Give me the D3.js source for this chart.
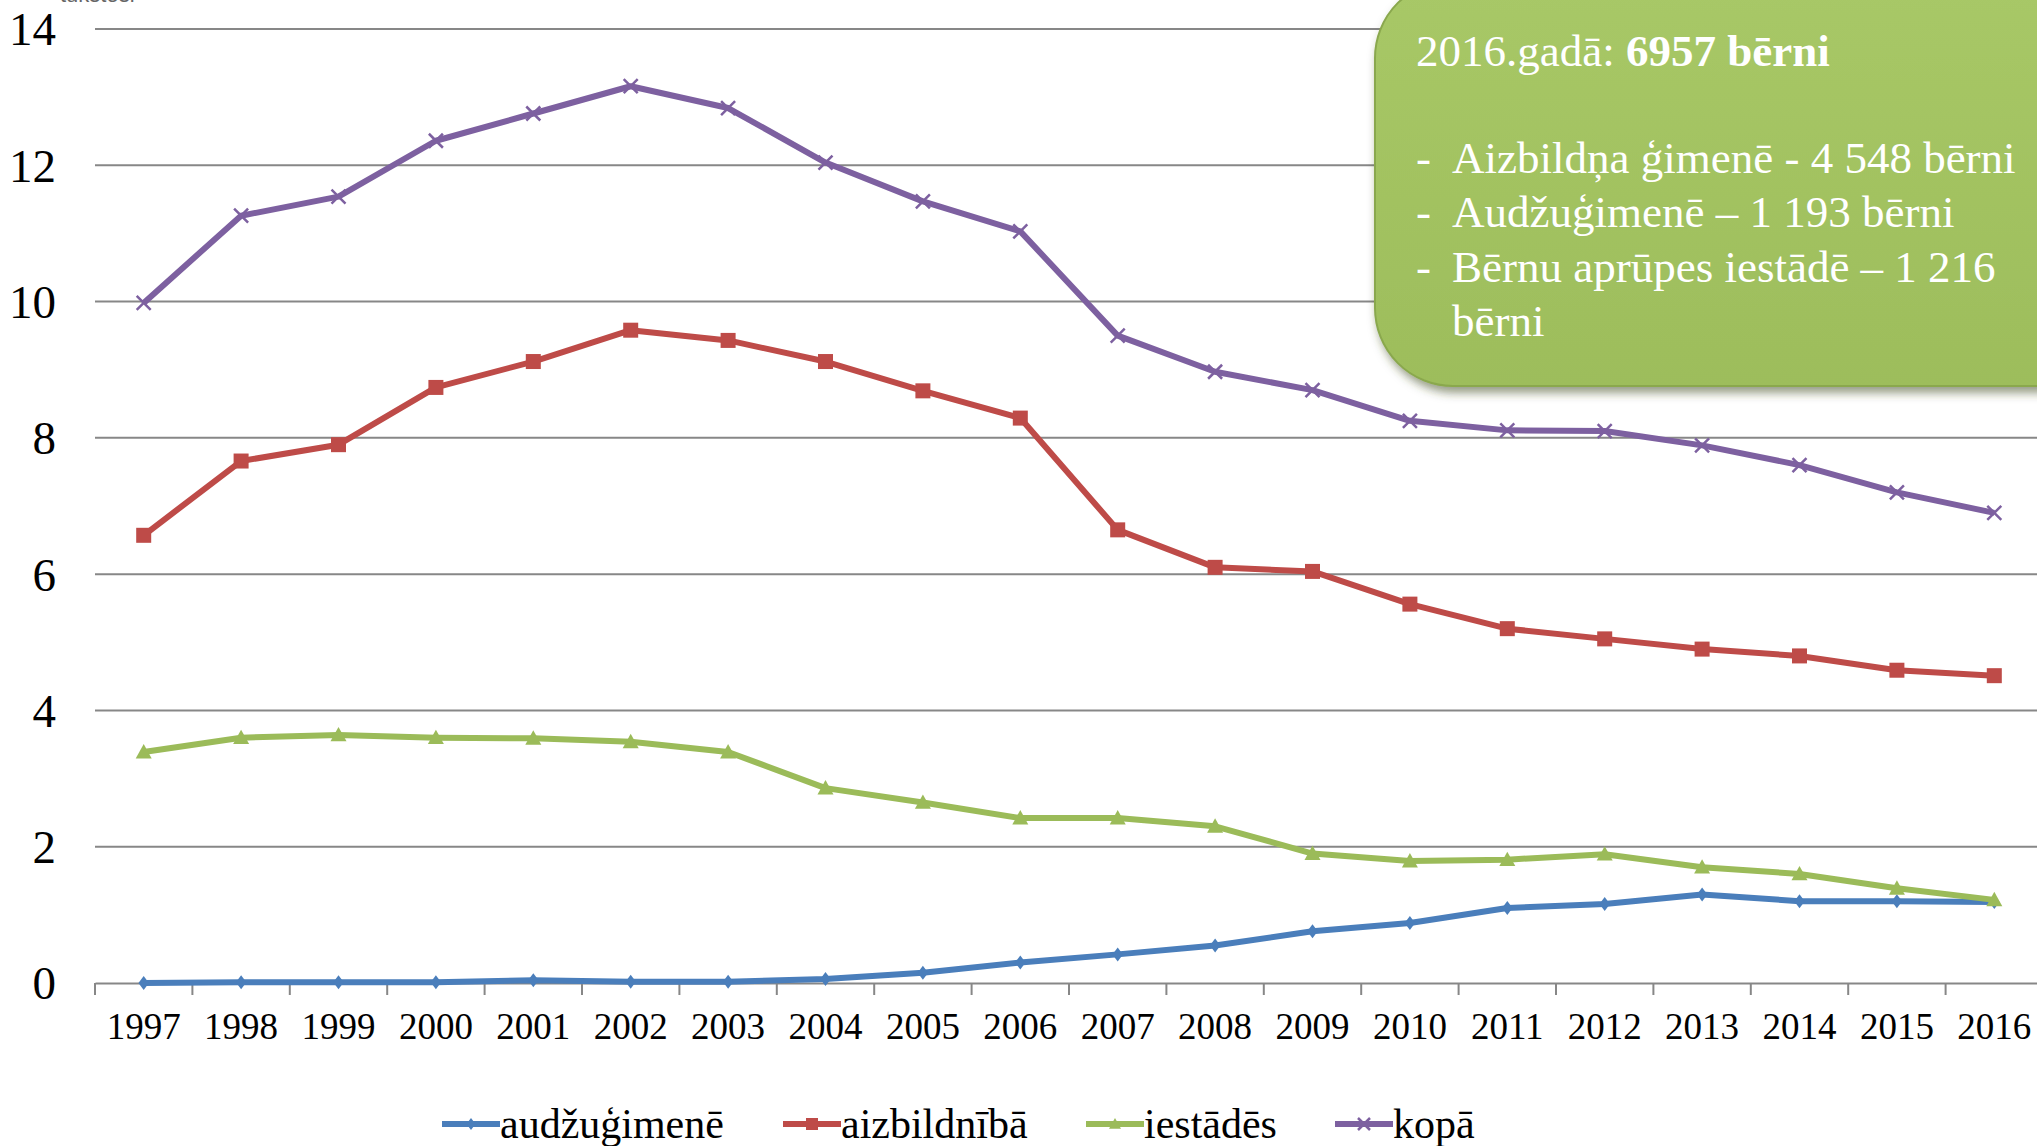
<!DOCTYPE html>
<html>
<head>
<meta charset="utf-8">
<script src="https://cdn.jsdelivr.net/npm/d3@7"></script>
<style>
  html, body { margin: 0; padding: 0; background: #fff; overflow: hidden; }
  svg { display: block; font-family: "Liberation Serif", "Times New Roman", serif; }
</style>
</head>
<body>
<svg id="chart" width="2037" height="1146"></svg>
<script>
const years = ["1997","1998","1999","2000","2001","2002","2003","2004","2005","2006","2007","2008","2009","2010","2011","2012","2013","2014","2015","2016"];
const audzugimene = [0.00,0.01,0.01,0.01,0.04,0.02,0.02,0.06,0.15,0.30,0.42,0.55,0.76,0.88,1.10,1.16,1.30,1.20,1.20,1.19];
const aizbildniba = [6.57,7.66,7.90,8.74,9.12,9.58,9.43,9.12,8.69,8.29,6.65,6.10,6.04,5.56,5.20,5.05,4.90,4.80,4.59,4.51];
const iestades    = [3.39,3.60,3.64,3.60,3.59,3.54,3.39,2.86,2.65,2.42,2.42,2.30,1.90,1.79,1.81,1.89,1.70,1.60,1.39,1.22];
const kopa        = [9.98,11.26,11.54,12.36,12.76,13.16,12.84,12.04,11.47,11.03,9.50,8.97,8.70,8.25,8.11,8.10,7.89,7.60,7.20,6.90];
const yTicks = [0,2,4,6,8,10,12,14];
const seriesNames = ["audžuģimenē","aizbildnībā","iestādēs","kopā"];
const seriesColors = ["#4A7EBB","#BE4B48","#9BBB59","#7D60A0"];
const seriesMarkers = ["diamond","square","triangle","x"];
const boxTitle = "2016.gadā: ";
const boxTitleBold = "6957 bērni";
const boxLines = ["Aizbildņa ģimenē - 4 548 bērni","Audžuģimenē – 1 193 bērni","Bērnu aprūpes iestādē – 1 216","bērni"];
const boxDashes = [true,true,true,false];
const unitLabel = "tūkstoši";

const svg = d3.select("#chart");
const W = 2037, H = 1146;
const left = 95, bandW = 97.4;
const x = d3.scaleBand().domain(years).range([left, left + bandW * years.length]).padding(0);
const y = d3.scaleLinear().domain([0, 14]).range([983, 29]);

// unit label (mostly cut off at top, as in the reference)
svg.append("text").attr("x", 60).attr("y", 2).attr("font-size", 22).attr("fill", "#666")
  .attr("font-family", "Liberation Sans, Arial, sans-serif").text(unitLabel);

// gridlines
svg.append("g").selectAll("line").data(yTicks.filter(d => d > 0)).join("line")
  .attr("x1", left).attr("x2", W).attr("y1", d => y(d)).attr("y2", d => y(d))
  .attr("stroke", "#878787").attr("stroke-width", 2);

// y labels
svg.append("g").selectAll("text").data(yTicks).join("text")
  .attr("x", 56).attr("y", d => y(d)).attr("dy", "0.35em").attr("text-anchor", "end")
  .attr("font-size", 47).attr("fill", "#000").text(d => d);

// x axis
const xAxis = d3.axisBottom(x).tickSize(0).tickFormat(d => d);
const gx = svg.append("g").attr("transform", `translate(0,${y(0)})`).call(xAxis);
gx.select(".domain").attr("stroke", "#878787").attr("stroke-width", 2);
gx.selectAll("text").attr("font-size", 37).attr("fill", "#000")
  .attr("font-family", "Liberation Serif, serif").attr("dy", 0).attr("y", 56);
const bounds = years.map(d => x(d)).concat([x(years[years.length - 1]) + x.bandwidth()]);
svg.append("g").selectAll("line").data(bounds.filter(b => b <= W)).join("line")
  .attr("x1", d => d).attr("x2", d => d).attr("y1", y(0)).attr("y2", y(0) + 12)
  .attr("stroke", "#878787").attr("stroke-width", 2);

// series
const allData = [audzugimene, aizbildniba, iestades, kopa];
const cx = d => x(d) + x.bandwidth() / 2;
const line = d3.line().x(d => cx(d.year)).y(d => y(d.v));

function drawMarker(g, type, color, px, py, s) {
  if (type === "diamond") {
    g.append("path").attr("d", `M${px},${py - s}L${px + s * 0.75},${py}L${px},${py + s}L${px - s * 0.75},${py}Z`).attr("fill", color);
  } else if (type === "square") {
    g.append("rect").attr("x", px - s).attr("y", py - s).attr("width", 2 * s).attr("height", 2 * s).attr("fill", color);
  } else if (type === "triangle") {
    g.append("path").attr("d", `M${px},${py - s}L${px + s},${py + s * 0.8}L${px - s},${py + s * 0.8}Z`).attr("fill", color);
  } else {
    g.append("path").attr("d", `M${px - s},${py - s}L${px + s},${py + s}M${px + s},${py - s}L${px - s},${py + s}`)
      .attr("stroke", color).attr("stroke-width", 2.5);
  }
}

allData.forEach((vals, i) => {
  const pts = years.map((yr, j) => ({ year: yr, v: vals[j] }));
  const g = svg.append("g");
  g.append("path").datum(pts).attr("d", line).attr("fill", "none")
    .attr("stroke", seriesColors[i]).attr("stroke-width", 6).attr("stroke-linejoin", "round");
  const sizes = [7, 7.5, 8, 7];
  pts.forEach(p => drawMarker(g, seriesMarkers[i], seriesColors[i], cx(p.year), y(p.v), sizes[i]));
});

// legend
const legX = [442, 783, 1086, 1335];
const lg = svg.append("g");
seriesNames.forEach((n, i) => {
  const ly = 1124;
  lg.append("line").attr("x1", legX[i]).attr("x2", legX[i] + 58).attr("y1", ly).attr("y2", ly)
    .attr("stroke", seriesColors[i]).attr("stroke-width", 6);
  drawMarker(lg, seriesMarkers[i], seriesColors[i], legX[i] + 29, ly, 6);
  lg.append("text").attr("x", legX[i] + 58).attr("y", 1138).attr("font-size", 42).attr("fill", "#000").text(n);
});

// green box
const defs = svg.append("defs");
const grad = defs.append("linearGradient").attr("id", "gb").attr("x1", "0").attr("y1", "0").attr("x2", "0").attr("y2", "1");
grad.append("stop").attr("offset", "0").attr("stop-color", "#a8c867");
grad.append("stop").attr("offset", "1").attr("stop-color", "#9dbd5b");
const filt = defs.append("filter").attr("id", "sh").attr("x", "-10%").attr("y", "-10%").attr("width", "130%").attr("height", "130%");
filt.append("feDropShadow").attr("dx", 3).attr("dy", 6).attr("stdDeviation", 5).attr("flood-color", "#3d4d20").attr("flood-opacity", 0.55);

svg.append("rect").attr("x", 1375).attr("y", -20).attr("width", 760).attr("height", 406)
  .attr("rx", 78).attr("ry", 78).attr("fill", "url(#gb)").attr("stroke", "#8aa84e").attr("stroke-width", 2)
  .attr("filter", "url(#sh)");

const t1 = svg.append("text").attr("x", 1416).attr("y", 66).attr("font-size", 45).attr("fill", "#fff");
t1.append("tspan").text(boxTitle);
t1.append("tspan").attr("font-weight", "bold").text(boxTitleBold);

const lineYs = [173, 227, 282, 336];
boxLines.forEach((s, i) => {
  if (boxDashes[i]) {
    svg.append("text").attr("x", 1416).attr("y", lineYs[i]).attr("font-size", 45).attr("fill", "#fff").text("-");
  }
  svg.append("text").attr("x", 1452).attr("y", lineYs[i]).attr("font-size", 45).attr("fill", "#fff").text(s);
});
</script>
</body>
</html>
